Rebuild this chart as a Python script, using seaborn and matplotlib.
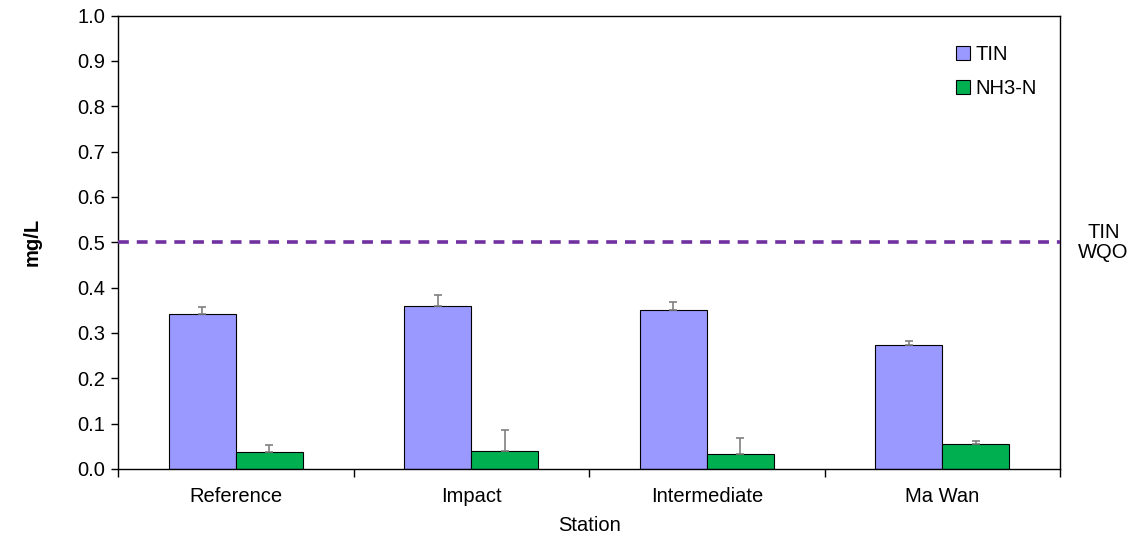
import pandas as pd
import seaborn as sns
import matplotlib.pyplot as plt
from matplotlib.patches import Patch
from matplotlib.ticker import FixedLocator

# data
stations = ["Reference", "Impact", "Intermediate", "Ma Wan"]
tin = [0.342, 0.360, 0.351, 0.274]
tin_err = [0.015, 0.023, 0.018, 0.008]
nh3 = [0.038, 0.039, 0.033, 0.055]
nh3_err = [0.016, 0.047, 0.036, 0.006]
wqo = 0.5
yticks = [0.0, 0.1, 0.2, 0.3, 0.4, 0.5, 0.6, 0.7, 0.8, 0.9, 1.0]

params = ["TIN", "NH3-N"]
colors = ["#9999FF", "#00B050"]

df = pd.DataFrame({
    "Station": stations * 2,
    "Parameter": ["TIN"] * 4 + ["NH3-N"] * 4,
    "value": tin + nh3,
})

sns.set_style("white")
plt.rcParams["font.family"] = ["Liberation Sans", "DejaVu Sans"]
plt.rcParams["text.color"] = "black"
plt.rcParams["axes.labelcolor"] = "black"
plt.rcParams["xtick.color"] = "black"
plt.rcParams["ytick.color"] = "black"

fig = plt.figure(figsize=(11.37, 5.36), dpi=100)
ax = fig.add_axes([0.1038, 0.125, 0.8285, 0.846])

sns.barplot(data=df, x="Station", y="value", hue="Parameter", order=stations,
            hue_order=params, palette=colors, saturation=1, width=0.57, dodge=True,
            edgecolor="black", linewidth=0.8, errorbar=None, ax=ax, legend=False)

# upper error bars only
for cont, errs in zip(ax.containers, [tin_err, nh3_err]):
    for bar, e in zip(cont, errs):
        xc = bar.get_x() + bar.get_width() / 2
        h = bar.get_height()
        ax.errorbar(xc, h, yerr=[[0], [e]], fmt="none", ecolor="#808080",
                    elinewidth=1.2, capsize=3, capthick=1.2, zorder=1)

# water quality objective line
ax.axhline(wqo, color="#7030A0", linestyle=(0, (3, 2.2)), linewidth=2.6, zorder=3)
ax.text(1.046, wqo, "TIN\nWQO", transform=ax.get_yaxis_transform(),
        ha="center", va="center", fontsize=14.5, linespacing=1.1)

ax.set_xlim(-0.5, 3.5)
ax.set_ylim(0, 1.0)
ax.set_yticks(yticks)
ax.set_yticklabels([f"{v:.1f}" for v in yticks], fontsize=14.5)

ax.xaxis.set_major_locator(FixedLocator([-0.5, 0.5, 1.5, 2.5, 3.5]))
ax.xaxis.set_minor_locator(FixedLocator(range(4)))
ax.set_xticklabels([""] * 5)
ax.set_xticklabels(stations, minor=True, fontsize=14.5)
ax.tick_params(axis="x", which="major", direction="out", length=6, width=1, bottom=True)
ax.tick_params(axis="x", which="minor", length=0, pad=13)
ax.tick_params(axis="y", direction="out", length=5, width=1, left=True, pad=4)

for s in ax.spines.values():
    s.set_color("black")
    s.set_linewidth(1)

ax.set_xlabel("Station", fontsize=14.5, labelpad=7)
ax.set_ylabel("mg/L", fontsize=14.5, fontweight="bold", labelpad=26)

handles = [Patch(facecolor=c, edgecolor="black", linewidth=0.8, label=p)
           for c, p in zip(colors, params)]
ax.legend(handles=handles, loc="upper right", bbox_to_anchor=(0.995, 0.975),
          frameon=False, fontsize=14.5, handlelength=0.7, handleheight=0.7,
          handletextpad=0.3, labelspacing=0.75)

fig.savefig("out.png", dpi=100)
